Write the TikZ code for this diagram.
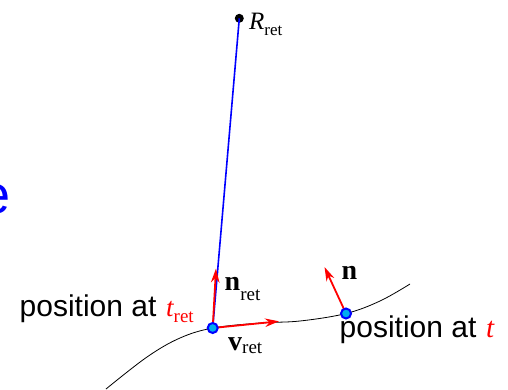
\documentclass[tikz,border=0pt]{standalone}
\usepackage{fontspec}
\setmainfont{Liberation Serif}
\newfontfamily\arialf{Liberation Sans}
\usetikzlibrary{arrows.meta}
\tikzset{
  lbl/.style={inner sep=0pt, anchor=base west},
  vec/.style={draw=red, line width=1.8pt, -{Stealth[length=14pt,width=8.5pt]}},
  pt/.style={circle, draw=blue, fill=cyan, line width=2pt, minimum size=10pt, inner sep=0pt},
}
\newcommand{\fs}[1]{\fontsize{#1}{#1}\selectfont}
\begin{document}
\begin{tikzpicture}[x=1pt,y=-1pt]
\useasboundingbox (0,0) rectangle (508,389);
% curve
\draw[black, line width=0.8pt] plot[smooth, tension=0.6] coordinates {(106,389) (147,357) (180,338) (213,328) (260,323) (300,321) (346,313.5) (380,301) (410,284)};
% observer
\node[circle, fill=black, minimum size=9pt, inner sep=0pt] (R) at (239.3,18.3) {};
\node[lbl] (Rl) at (249,29) {\fs{25}\itshape R\raisebox{-6pt}{\fs{17}\upshape ret}};
% points
\coordinate (Pret) at (212.7,328);
\coordinate (Pt) at (346,313.5);
\draw[blue, line width=1.6pt] (R.center) -- (Pret);
% vectors
\coordinate (nrettip) at (216,268.5);
\coordinate (vrettip) at (279,321.3);
\coordinate (ntip) at (324.5,267);
\draw[vec] (Pret) -- (nrettip);
\draw[vec] (Pret) -- (vrettip);
\draw[vec] (Pt) -- (ntip);
\node[pt] (A) at (Pret) {};
\node[pt] (B) at (Pt) {};
% labels
\node[lbl] (nl) at (224.5,290) {\fs{28}\bfseries n\raisebox{-10pt}{\fs{19}\mdseries ret}};
\node[lbl] (vl) at (228,350) {\fs{28}\bfseries v\raisebox{-3.5pt}{\fs{19}\mdseries ret}};
\node[lbl] (n2) at (341.5,279) {\fs{28}\bfseries n};
\node[lbl] (pl) at (19.5,316.7) {\arialf\fs{30}position at};
\node[lbl, red] (tl) at (166,316.5) {\fs{27}\itshape t\raisebox{-5.5pt}{\fs{19}\upshape ret}};
\node[lbl] (pr) at (339.5,337) {\arialf\fs{30}position at};
\node[lbl, red] (tr) at (486,337) {\fs{29}\itshape t};
\node[lbl, blue] (e) at (-19.5,213) {\arialf\fs{54}e};
\end{tikzpicture}
\end{document}
